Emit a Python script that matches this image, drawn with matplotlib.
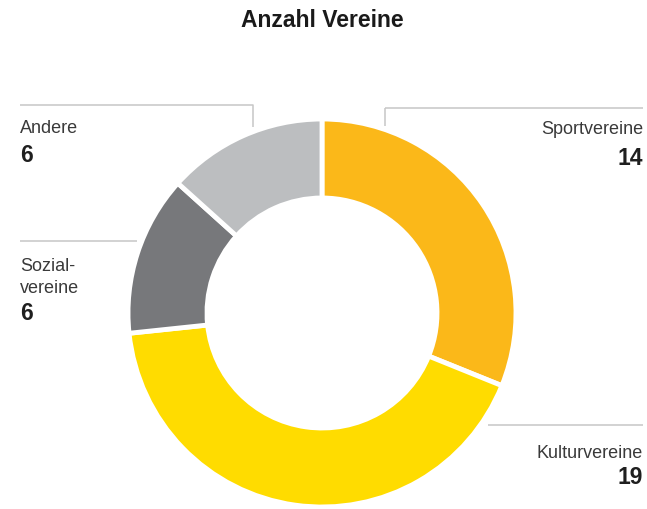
import matplotlib.pyplot as plt

plt.rcParams['font.family'] = ['Liberation Sans', 'DejaVu Sans']

# data
categories = ['Sportvereine', 'Kulturvereine', 'Sozial-\nvereine', 'Andere']
counts = [14, 19, 6, 6]
colors = ['#FBB819', '#FFDC00', '#77787B', '#BCBEC0']

W, H = 647, 509
fig = plt.figure(figsize=(W / 100, H / 100), dpi=100)
ax = fig.add_axes([0, 0, 1, 1])
ax.set_xlim(0, W)
ax.set_ylim(0, H)
ax.set_aspect('equal')
ax.axis('off')

# donut, pixel coords with y measured from the top
cx, cy = 322, 313
ax.pie(counts, colors=colors, startangle=90, counterclock=False,
       center=(cx, H - cy), radius=194,
       wedgeprops=dict(width=79, edgecolor='white', linewidth=3.5))
ax.set_xlim(0, W)
ax.set_ylim(0, H)

ax.text(322, H - 20, 'Anzahl Vereine', ha='center', va='center',
        fontsize=16.5, fontweight='bold', color='#1a1a1a')

line_kw = dict(color='#c6c6c6', lw=1.1, solid_capstyle='butt')

# leader lines
ax.plot([20, 253, 253], [H - 105, H - 105, H - 127], **line_kw)
ax.plot([385, 643], [H - 108, H - 108], **line_kw)
ax.plot([385, 385], [H - 108, H - 126], **line_kw)
ax.plot([20, 137], [H - 241, H - 241], **line_kw)
ax.plot([488, 643], [H - 425, H - 425], **line_kw)

lab_kw = dict(fontsize=13, color='#3a3a3a', va='baseline')
num_kw = dict(fontsize=16.5, color='#1f1f1f', fontweight='bold', va='baseline')

# label positions: (x, label baseline, number baseline, alignment)
label_pos = {
    'Sportvereine': (643, 134, 165, 'right'),
    'Kulturvereine': (643, 458, 484, 'right'),
    'Sozial-\nvereine': (20, 271, 320, 'left'),
    'Andere': (20, 133, 162, 'left'),
}

for cat, n in zip(categories, counts):
    x, yl, yn, ha = label_pos[cat]
    lines = cat.split('\n')
    for i, t in enumerate(lines):
        ax.text(x, H - (yl + i * 22), t, ha=ha, **lab_kw)
    ax.text(x, H - yn, str(n), ha=ha, **num_kw)

fig.savefig('out.png', dpi=100)
